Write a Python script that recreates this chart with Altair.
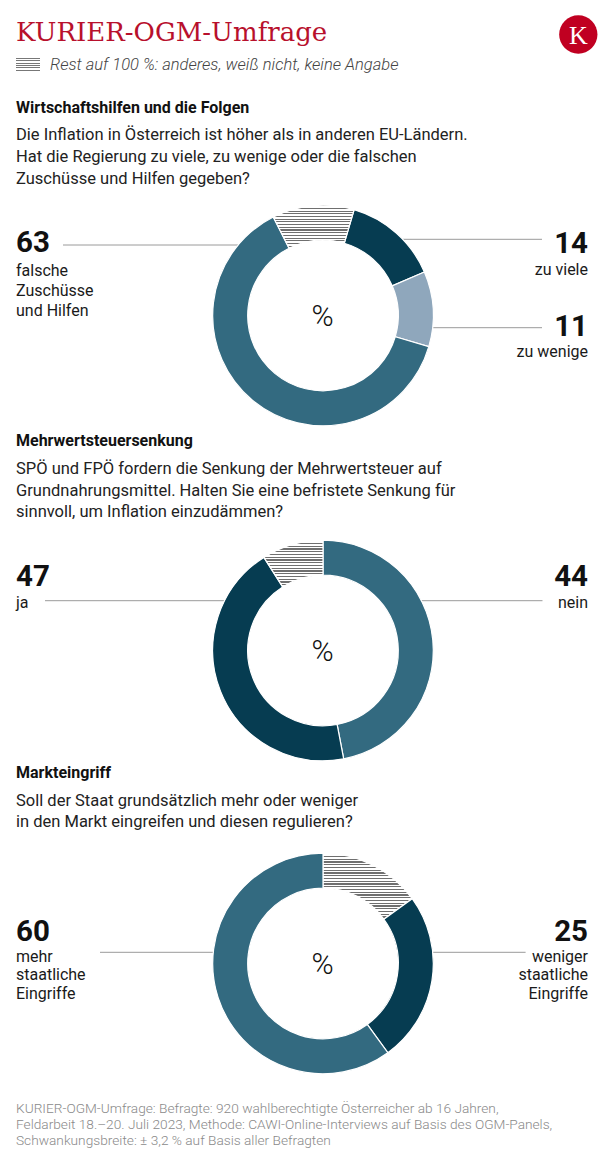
import math
import altair as alt
import pandas as pd

# ---------------- data ----------------
TITLE = "KURIER-OGM-Umfrage"
SUBTITLE = "Rest auf 100 %: anderes, weiß nicht, keine Angabe"

q1_title = "Wirtschaftshilfen und die Folgen"
q1_text = ["Die Inflation in Österreich ist höher als in anderen EU-Ländern.",
           "Hat die Regierung zu viele, zu wenige oder die falschen",
           "Zuschüsse und Hilfen gegeben?"]
d1_cats = ["zu viele", "zu wenige", "falsche Zuschüsse und Hilfen", "Rest"]
d1_vals = [14, 11, 63, 12]

q2_title = "Mehrwertsteuersenkung"
q2_text = ["SPÖ und FPÖ fordern die Senkung der Mehrwertsteuer auf",
           "Grundnahrungsmittel. Halten Sie eine befristete Senkung für",
           "sinnvoll, um Inflation einzudämmen?"]
d2_cats = ["ja", "nein", "Rest"]
d2_vals = [47, 44, 9]

q3_title = "Markteingriff"
q3_text = ["Soll der Staat grundsätzlich mehr oder weniger",
           "in den Markt eingreifen und diesen regulieren?"]
d3_cats = ["Rest", "weniger staatliche Eingriffe", "mehr staatliche Eingriffe"]
d3_vals = [15, 25, 60]

FOOTER = ["KURIER-OGM-Umfrage: Befragte: 920 wahlberechtigte Österreicher ab 16 Jahren,",
          "Feldarbeit 18.–20. Juli 2023,  Methode: CAWI-Online-Interviews auf Basis des OGM-Panels,",
          "Schwankungsbreite: ± 3,2 % auf Basis aller Befragten"]

# ---------------- styles / layout ----------------
OFF = 8
W, H = 600, 1143
DARK = "#063c51"
MED = "#336a80"
LIGHT = "#8fa7bc"
RED = "#b8102c"
LINE = "#9a9a9a"
FONT = "Roboto"
R_OUT, R_IN = 110.3, 75.3
CX = 323

d1_colors = [DARK, LIGHT, MED, None]
d2_colors = [MED, DARK, None]
d3_colors = [None, DARK, MED]

ONE = pd.DataFrame({"k": [0]})


def stripes(n, line="#6f6f6f", bg="#ffffff", frac=0.42):
    stops = []
    for i in range(n):
        a, b, c = i / n, (i + frac) / n, (i + 1) / n
        stops += [{"offset": a, "color": line}, {"offset": b, "color": line},
                  {"offset": b, "color": bg}, {"offset": c, "color": bg}]
    return {"gradient": "linear", "x1": 0, "y1": 0, "x2": 0, "y2": 1, "stops": stops}


def rest_stripe_count(vals, cats, start_deg, period=2.7):
    # height of bounding box of the "Rest" slice -> number of hatch lines
    acc = 0
    for c, v in zip(cats, vals):
        if c == "Rest":
            a0 = math.radians(start_deg + acc * 3.6)
            a1 = math.radians(start_deg + (acc + v) * 3.6)
            break
        acc += v
    ys = []
    steps = 60
    for i in range(steps + 1):
        a = a0 + (a1 - a0) * i / steps
        for r in (R_IN, R_OUT):
            ys.append(-r * math.cos(a))
    h = max(ys) - min(ys)
    return max(3, round(h / period))


def donut(cats, vals, colors, cy, start_deg):
    df = pd.DataFrame({"cat": cats, "value": vals, "idx": list(range(len(cats))),
                       "col": [c if c else "#ffffff" for c in colors]})
    s = math.radians(start_deg)
    grad = stripes(rest_stripe_count(vals, cats, start_deg))
    return alt.Chart(df).mark_arc(innerRadius=R_IN, outerRadius=R_OUT,
                                  stroke="white", strokeWidth=1.2).encode(
        theta=alt.Theta("value:Q", stack=True,
                        scale=alt.Scale(domain=[0, 100], range=[s, s + 2 * math.pi])),
        order=alt.Order("idx:Q"),
        fill=alt.condition("datum.cat == 'Rest'", alt.value(grad),
                           alt.Fill("col:N", scale=None)),
        x=alt.value(CX - OFF), y=alt.value(cy - OFF),
    )


def txt(text, x, y, size=16, weight="normal", color="#1a1a1a", align="left",
        font=FONT, style="normal", lh=None):
    kw = dict(text=text, fontSize=size, fontWeight=weight, color=color, align=align,
              font=font, baseline="alphabetic", fontStyle=style)
    if lh:
        kw["lineHeight"] = lh
    return alt.Chart(ONE).mark_text(**kw).encode(x=alt.value(x - OFF), y=alt.value(y - OFF))


def hline(x1, x2, y):
    return alt.Chart(ONE).mark_rule(color=LINE, strokeWidth=1).encode(
        x=alt.value(x1 - OFF), x2=alt.value(x2 - OFF), y=alt.value(y - OFF))


def edge_left(cy, y):
    return CX - math.sqrt(R_OUT ** 2 - (cy - y) ** 2)


def edge_right(cy, y):
    return CX + math.sqrt(R_OUT ** 2 - (cy - y) ** 2)


NUM = 29.5
layers = []

# header
layers.append(txt(TITLE, 16, 41, size=26, color=RED, font="DejaVu Serif"))
layers.append(alt.Chart(ONE).mark_circle(size=math.pi * 21.6 ** 2, color="#c00021", opacity=1)
              .encode(x=alt.value(578.3 - OFF), y=alt.value(34.5 - OFF)))
layers.append(txt("K", 578.5, 43.5, size=26, color="white", align="center", font="Liberation Serif"))
layers.append(alt.Chart(ONE).mark_rect(fill=stripes(6, line="#777777", frac=0.45)).encode(
    x=alt.value(16 - OFF), x2=alt.value(40 - OFF), y=alt.value(58 - OFF), y2=alt.value(72 - OFF)))
layers.append(txt(SUBTITLE, 50, 70, size=16.5, weight=300, color="#444444", style="italic"))

# ---- section 1 ----
C1 = 315.5
layers.append(txt(q1_title, 16, 113, size=16, weight="bold", color="#111111"))
layers.append(txt(q1_text, 16, 139.5, size=16.5, color="#222222", lh=22))
layers.append(hline(63, edge_left(C1, 245), 245))
layers.append(hline(edge_right(C1, 239.3), 542, 239.3))
layers.append(hline(edge_right(C1, 327.7), 542, 327.7))
layers.append(donut(d1_cats, d1_vals, d1_colors, C1, 16.4))
layers.append(txt("%", 322.5, C1 + 10.5, size=30, weight=300, color="#111111", align="center"))
layers.append(txt(str(d1_vals[2]), 16, 252, size=NUM, weight="bold", color="#111111"))
layers.append(txt(["falsche", "Zuschüsse", "und Hilfen"], 16, 275.5, lh=20))
layers.append(txt(str(d1_vals[0]), 588, 252.5, size=NUM, weight="bold", color="#111111", align="right"))
layers.append(txt(d1_cats[0], 588, 275, align="right"))
layers.append(txt(str(d1_vals[1]), 588, 335.5, size=NUM, weight="bold", color="#111111", align="right"))
layers.append(txt(d1_cats[1], 588, 357, align="right"))

# ---- section 2 ----
C2 = 650.5
layers.append(txt(q2_title, 16, 446, size=16, weight="bold", color="#111111"))
layers.append(txt(q2_text, 16, 474, size=16.5, color="#222222", lh=21.5))
layers.append(hline(45, edge_left(C2, 600.7), 600.7))
layers.append(hline(edge_right(C2, 600.7), 542.5, 600.7))
layers.append(donut(d2_cats, d2_vals, d2_colors, C2, 0))
layers.append(txt("%", 322.5, C2 + 10.5, size=30, weight=300, color="#111111", align="center"))
layers.append(txt(str(d2_vals[0]), 16, 586, size=NUM, weight="bold", color="#111111"))
layers.append(txt(d2_cats[0], 16, 608))
layers.append(txt(str(d2_vals[1]), 588, 586, size=NUM, weight="bold", color="#111111", align="right"))
layers.append(txt(d2_cats[1], 588, 608, align="right"))

# ---- section 3 ----
C3 = 963.5
layers.append(txt(q3_title, 16, 778, size=16, weight="bold", color="#111111"))
layers.append(txt(q3_text, 16, 806, size=16.5, color="#222222", lh=21))
layers.append(hline(100, edge_left(C3, 952.3), 952.3))
layers.append(hline(edge_right(C3, 952.3), 525.6, 952.3))
layers.append(donut(d3_cats, d3_vals, d3_colors, C3, 0))
layers.append(txt("%", 322.5, C3 + 10.5, size=30, weight=300, color="#111111", align="center"))
layers.append(txt(str(d3_vals[2]), 16, 940.5, size=NUM, weight="bold", color="#111111"))
layers.append(txt(["mehr", "staatliche", "Eingriffe"], 16, 962, lh=18.3))
layers.append(txt(str(d3_vals[1]), 588, 940.5, size=NUM, weight="bold", color="#111111", align="right"))
layers.append(txt(["weniger", "staatliche", "Eingriffe"], 588, 962, align="right", lh=18.3))

# footer
layers.append(txt(FOOTER, 16, 1113, size=13.7, weight=300, color="#8a8a8a", lh=16))

chart = alt.layer(*layers).resolve_scale(theta="independent").properties(
    width=W, height=H, padding=0, autosize=alt.AutoSizeParams(type="none")
).configure_view(stroke=None)

chart.save("out.html", embed_options={"renderer": "svg", "actions": False})
